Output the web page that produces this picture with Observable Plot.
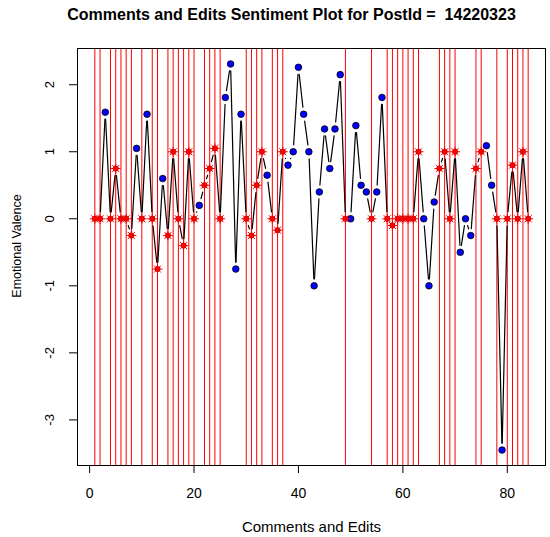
<!DOCTYPE html>
<html><head><meta charset="utf-8">
<script src="https://cdn.jsdelivr.net/npm/d3@7"></script>
<script src="https://cdn.jsdelivr.net/npm/@observablehq/plot@0.6"></script>
<style>body{margin:0;background:#fff;} svg{display:block}</style>
</head><body><div id="chart"></div>
<script>
const title = "Comments and Edits Sentiment Plot for PostId =  14220323";
const xLabel = "Comments and Edits";
const yLabel = "Emotional Valence";
const xTicks = [0, 20, 40, 60, 80];
const yTicks = [-3, -2, -1, 0, 1, 2];

// Emotional valence per item (index 1..84)
const valence = [
  0, 0, 1.59, 0, 0.75, 0, 0, -0.25, 1.05, 0,
  1.56, 0, -0.75, 0.6, -0.25, 1, 0, -0.4, 1, 0,
  0.2, 0.5, 0.75, 1.05, 0, 1.81, 2.31, -0.75, 1.56, 0,
  -0.25, 0.5, 1, 0.65, 0, -0.17, 1, 0.8, 1, 2.26,
  1.56, 1, -1, 0.4, 1.34, 0.75, 1.34, 2.15, 0, 0,
  1.39, 0.5, 0.4, 0, 0.4, 1.81, 0, -0.1, 0, 0,
  0, 0, 1, 0, -1, 0.25, 0.75, 1, 0, 1,
  -0.5, 0, -0.25, 0.75, 1, 1.09, 0.5, 0, -3.45, 0,
  0.8, 0, 1, 0
];
// C = comment (red, with vertical line), E = edit (blue)
const kind = [
  "C","C","E","C","C","C","C","C","E","C",
  "E","C","C","E","C","C","C","C","C","C",
  "E","C","C","C","C","E","E","E","E","C",
  "C","C","C","E","C","C","C","E","E","E",
  "E","E","E","E","E","E","E","E","C","E",
  "E","E","E","C","E","E","C","C","C","C",
  "C","C","C","E","E","E","C","C","C","C",
  "E","E","E","C","C","E","E","C","E","C",
  "C","C","C","C"
];

const rows = valence.map((v, k) => ({i: k + 1, v, kind: kind[k]}));
const comments = rows.filter(d => d.kind === "C");
const edits = rows.filter(d => d.kind === "E");
const pairs = d3.pairs(rows).map(([a, b]) => ({x1: a.i, y1: a.v, x2: b.i, y2: b.v}));

const pad = (ext) => { const d = ext[1] - ext[0]; return [ext[0] - 0.04 * d, ext[1] + 0.04 * d]; };
const xDom = pad(d3.extent(rows, d => d.i));
const yDom = pad(d3.extent(rows, d => d.v));

const font = "'Liberation Sans', Arial, sans-serif";

const chart = Plot.plot({
  width: 550, height: 537,
  marginLeft: 77, marginRight: 5, marginTop: 48, marginBottom: 72,
  style: {fontFamily: font, background: "#fff", color: "#000", overflow: "visible"},
  x: {domain: xDom},
  y: {domain: yDom},
  marks: [
    Plot.ruleX(comments, {x: "i", stroke: "#ff0000", strokeWidth: 1}),
    Plot.arrow(pairs, {x1: "x1", y1: "y1", x2: "x2", y2: "y2", headLength: 0, inset: 7, stroke: "#000", strokeWidth: 1.2}),
    Plot.dot(edits, {x: "i", y: "v", r: 3.3, fill: "#0000ff", stroke: "#000", strokeWidth: 0.8}),
    Plot.dot(comments, {x: "i", y: "v", symbol: "plus", r: 3.3, stroke: "#ff0000", strokeWidth: 1}),
    Plot.dot(comments, {x: "i", y: "v", symbol: "times", r: 3.3, stroke: "#ff0000", strokeWidth: 1}),
    Plot.dot(comments, {x: "i", y: "v", r: 2.7, fill: "#ff0000", stroke: "#b00000", strokeWidth: 0.6}),
    Plot.frame({stroke: "#000", strokeWidth: 1}),
    Plot.axisX({ticks: xTicks, tickSize: 8, tickPadding: 15, label: null, fontSize: 14, tickFormat: d => d}),
    Plot.axisY({ticks: yTicks, tickSize: 8, label: null, tickFormat: () => ""}),
    Plot.text(yTicks, {y: d => d, text: d => String(d), frameAnchor: "left", dx: -28, rotate: -90, textAnchor: "middle", lineAnchor: "middle", fontSize: 13}),
    Plot.text([xLabel], {text: d => d, frameAnchor: "bottom", dy: 62, lineAnchor: "middle", fontSize: 15}),
    Plot.text([yLabel], {text: d => d, frameAnchor: "left", dx: -61, dy: -11, rotate: -90, lineAnchor: "middle", textAnchor: "middle", fontSize: 12.5}),
    Plot.text([title], {text: d => d, frameAnchor: "top", dx: -20, dy: -34, lineAnchor: "middle", textAnchor: "middle", fontSize: 16, fontWeight: "bold"})
  ]
});
document.getElementById("chart").appendChild(chart);
</script>
</body></html>
